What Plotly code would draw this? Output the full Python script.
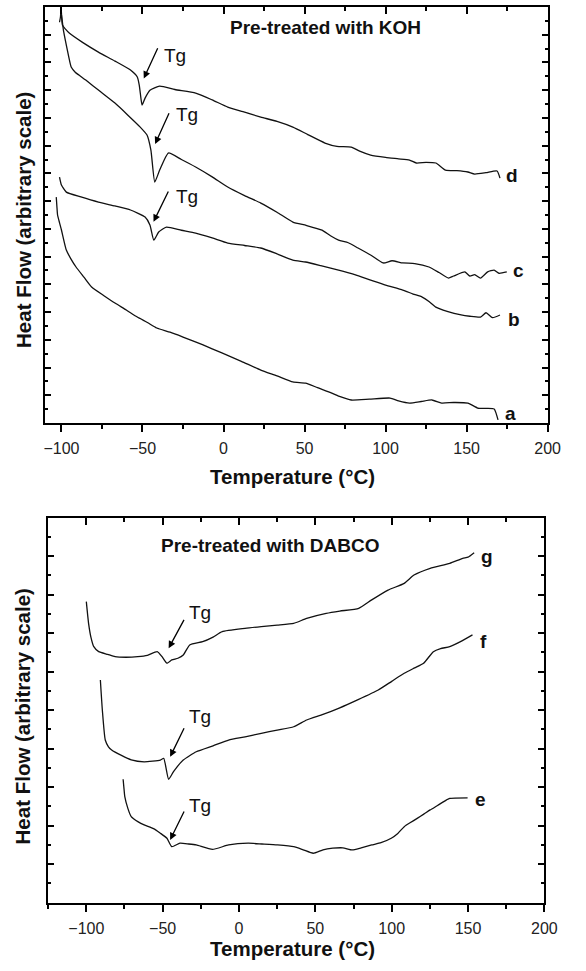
import plotly.graph_objects as go

# ---------------- Top panel (Pre-treated with KOH) ----------------
d_T = [-101.2, -100.6, -100.2, -99.4, -97.5, -95.2, -87.0, -77.2, -67.0, -57.4, -53.2, -52.0, -50.8, -50.2, -48.4, -45.4, -39.4,
       -30.0, -17.2, -7.0, 2.6, 12.0, 23.0, 33.0, 42.8, 52.0, 62.6, 70.0, 78.8, 84.0, 90.8, 100.0, 108.0, 114.8, 119.0, 125.0, 131.0, 137.0,
       144.0, 150.8, 155.0, 162.0, 168.8, 170.6]
d_Y = [28.9, 29.3, 29.9, 28.7, 28.4, 28.12, 27.45, 26.75, 26.1, 25.45, 24.95, 24.37, 23.29, 22.93, 23.43, 24.0, 24.3,
       24.05, 23.79, 23.3, 22.78, 22.45, 22.06, 21.75, 21.34, 20.8, 20.19, 19.95, 19.9, 19.6, 19.32, 19.15, 19.05, 18.96, 18.75, 18.8, 18.75, 18.24,
       18.2, 18.1, 17.95, 18.05, 18.17, 17.66]

c_T = [-100.0, -99.5, -98.8, -97.0, -95.5, -94.0, -91.5, -89.2, -85.0, -76.0, -67.0, -59.0, -51.4, -47.2, -44.8, -42.4, -39.4, -34.0, -26.0, -17.2,
       -7.0, 2.6, 13.0, 23.0, 33.0, 42.8, 51.0, 60.8, 66.0, 71.0, 77.0, 83.0, 91.0, 98.6, 104.0, 110.6, 118.0, 126.8, 133.0, 138.8, 142.0,
       149.0, 152.0, 155.0, 158.6, 163.0, 167.0, 170.0, 174.8]
c_Y = [29.42, 29.0, 28.33, 27.25, 26.4, 25.67, 25.3, 25.09, 24.73, 23.9, 23.07, 22.2, 21.34, 20.77, 19.68, 17.38, 18.24, 19.47, 19.0, 18.46,
       17.75, 17.02, 16.4, 15.86, 15.2, 14.49, 14.25, 13.91, 13.5, 13.19, 13.0, 12.62, 12.1, 11.54, 11.7, 11.54, 11.5, 11.25, 10.85, 10.45, 10.6,
       10.89, 10.6, 10.7, 10.45, 10.9, 11.03, 10.8, 10.89]

b_T = [-101.2, -100.0, -97.0, -88.0, -77.2, -67.0, -57.4, -48.4, -45.4, -43.0, -40.0, -35.2, -26.0, -17.2, -7.0, 2.6, 13.0, 23.0, 33.0, 42.8,
       50.6, 60.0, 71.0, 81.0, 90.8, 100.0, 110.6, 117.0, 122.6, 127.0, 131.0, 138.0, 146.6, 152.0, 158.6, 162.0, 166.0, 170.6]
b_Y = [17.74, 17.16, 16.65, 16.3, 15.93, 15.65, 15.36, 14.85, 14.28, 13.19, 13.77, 14.13, 13.9, 13.7, 13.35, 12.98, 12.8, 12.62, 12.2, 11.75,
       11.61, 11.35, 11.03, 10.7, 10.31, 9.95, 9.59, 9.3, 9.08, 8.75, 8.36, 8.05, 7.79, 7.7, 7.64, 7.95, 7.6, 7.79]

a_T = [-103.2, -102.8, -102.4, -101.2, -100.0, -98.5, -97.0, -94.0, -91.0, -86.0, -81.4, -74.0, -67.0, -60.0, -53.2, -47.0, -41.2, -33.0, -25.0,
       -13.0, -1.0, 11.0, 23.0, 33.0, 42.8, 50.6, 58.0, 66.8, 72.0, 78.8, 90.0, 102.8, 108.0, 114.8, 122.0, 128.6, 134.6, 142.0, 150.8,
       156.8, 162.0, 167.0, 169.4]
a_Y = [16.29, 15.6, 15.0, 14.45, 13.92, 13.15, 12.47, 11.8, 11.25, 10.5, 9.81, 9.2, 8.65, 8.15, 7.64, 7.25, 6.85, 6.55, 6.2,
       5.65, 5.05, 4.45, 3.82, 3.4, 2.96, 2.88, 2.55, 2.16, 1.9, 1.66, 1.72, 1.80, 1.6, 1.44, 1.55, 1.66, 1.44, 1.48, 1.44,
       1.08, 1.05, 1.01, 0.22]

# ---------------- Bottom panel (Pre-treated with DABCO) ----------------
g_T = [-100.0, -98.5, -97.0, -95.1, -91.9, -86.0, -81.2, -74.0, -66.3, -60.0, -53.6, -50.4, -47.2, -44.0, -40.0, -36.5, -32.3, -23.8, -17.0, -11.0,
       3.9, 14.6, 25.0, 35.8, 44.3, 57.1, 66.0, 78.4, 86.9, 97.6, 108.2, 114.6, 125.2, 138.0, 146.5, 150.0, 154.0]
g_Y = [15.64, 14.5, 13.8, 13.30, 13.04, 12.9, 12.78, 12.75, 12.78, 12.85, 13.04, 12.78, 12.44, 12.61, 12.7, 12.87, 13.39, 13.56, 13.8, 14.08,
       14.25, 14.34, 14.42, 14.51, 14.77, 15.03, 15.15, 15.29, 15.73, 16.24, 16.59, 17.02, 17.37, 17.63, 17.89, 17.95, 18.18]

f_T = [-90.8, -89.5, -87.6, -85.5, -83.4, -77.0, -70.6, -62.1, -51.5, -49.3, -46.1, -42.9, -36.5, -28.0, -17.0, -6.8, 4.0, 14.6, 25.0, 35.8,
       44.3, 55.0, 65.6, 78.0, 91.2, 100.0, 108.2, 115.0, 120.9, 127.3, 132.0, 138.0, 146.0, 152.9]
f_Y = [11.57, 10.0, 8.45, 8.1, 7.93, 7.65, 7.42, 7.32, 7.41, 7.50, 6.41, 6.81, 7.41, 7.84, 8.15, 8.45, 8.62, 8.80, 8.97, 9.14,
       9.49, 9.78, 10.11, 10.55, 11.05, 11.5, 11.92, 12.2, 12.44, 13.04, 13.2, 13.30, 13.6, 13.91]

e_T = [-75.9, -75.3, -74.8, -72.8, -70.6, -66.0, -62.1, -56.0, -51.5, -47.2, -44.0, -38.7, -33.0, -28.0, -17.4, -6.8, 6.0, 15.0, 25.2, 35.8,
       42.0, 48.6, 55.0, 61.4, 68.0, 74.2, 80.0, 86.9, 93.0, 99.7, 104.0, 108.2, 112.0, 116.7, 121.0, 125.2, 130.0, 135.9, 138.0, 149.7]
e_Y = [6.41, 5.9, 5.51, 4.9, 4.47, 4.2, 4.04, 3.85, 3.61, 3.35, 2.91, 3.09, 3.05, 3.0, 2.77, 3.0, 3.09, 3.05, 3.0, 2.91,
       2.75, 2.57, 2.75, 2.83, 2.85, 2.74, 2.85, 3.0, 3.12, 3.35, 3.6, 3.95, 4.15, 4.38, 4.6, 4.82, 5.05, 5.34, 5.42, 5.45]

curve_labels_top = ["a", "b", "c", "d"]
label_top_T = [177.2, 179.0, 182.0, 177.8]
label_top_Y = [0.72, 7.43, 11.03, 17.88]
curve_labels_bot = ["e", "f", "g"]
label_bot_T = [158.2, 160.4, 162.5]
label_bot_Y = [5.37, 13.56, 18.01]

# Tg arrows: tip (T, Y), tail (T, Y), text anchor (T, Y)
tg_top_tip = [(-49.2, 24.85), (-42.2, 20.12), (-43.2, 14.51)]
tg_top_tail = [(-40.2, 27.13), (-33.2, 22.44), (-33.6, 16.8)]
tg_top_text = [(-38.2, 26.53), (-30.4, 22.28), (-30.4, 16.37)]
tg_bot_tip = [(-46.1, 13.22), (-45.1, 7.58), (-45.1, 3.26)]
tg_bot_tail = [(-35.5, 14.77), (-35.5, 9.14), (-35.5, 4.82)]
tg_bot_text = [(-33.8, 15.1), (-33.8, 9.65), (-33.8, 5.05)]

FONT = "Liberation Sans, Arial, sans-serif"
W, H = 586, 971

fig = go.Figure()
line = dict(color="#111", width=1.3, shape="spline", smoothing=0.5)
for T, Y in [(d_T, d_Y), (c_T, c_Y), (b_T, b_Y), (a_T, a_Y)]:
    fig.add_trace(go.Scatter(x=T, y=Y, mode="lines", line=line, xaxis="x", yaxis="y", showlegend=False, hoverinfo="skip"))
for T, Y in [(g_T, g_Y), (f_T, f_Y), (e_T, e_Y)]:
    fig.add_trace(go.Scatter(x=T, y=Y, mode="lines", line=line, xaxis="x2", yaxis="y2", showlegend=False, hoverinfo="skip"))
# empty traces so the top-side tick axes get drawn
fig.add_trace(go.Scatter(x=[None], y=[None], xaxis="x3", yaxis="y", showlegend=False, hoverinfo="skip"))
fig.add_trace(go.Scatter(x=[None], y=[None], xaxis="x4", yaxis="y2", showlegend=False, hoverinfo="skip"))

def px_x(a, b):
    return [a / W, b / W]

def px_y(top, bottom):
    return [1 - bottom / H, 1 - top / H]

tickfont = dict(family=FONT, size=16, color="#222")

def xaxis_main(dom, rng, anchor):
    return dict(domain=dom, range=rng, anchor=anchor, showgrid=False, zeroline=False,
                showline=True, linecolor="black", linewidth=2, mirror=True,
                ticks="outside", ticklen=7, tickwidth=1.5, tickcolor="black",
                tick0=-100, dtick=50, tickfont=tickfont, ticklabelstandoff=3,
                minor=dict(ticks="outside", ticklen=4, tickwidth=1.5, tickcolor="black", dtick=25, tick0=-100, showgrid=False))

def xaxis_top(rng, over, anchor):
    return dict(range=rng, overlaying=over, anchor=anchor, side="top", showgrid=False, zeroline=False,
                showline=False, showticklabels=False,
                ticks="inside", ticklen=7, tickwidth=1.5, tickcolor="black", tick0=-100, dtick=50,
                minor=dict(ticks="inside", ticklen=4, tickwidth=1.5, tickcolor="black", dtick=25, tick0=-100, showgrid=False))

def yaxis_main(dom, rng, anchor):
    return dict(domain=dom, range=rng, anchor=anchor, showgrid=False, zeroline=False,
                showline=True, linecolor="black", linewidth=2, mirror="ticks",
                ticks="inside", ticklen=6, tickwidth=1.5, tickcolor="black", dtick=2, tick0=0,
                showticklabels=False,
                minor=dict(ticks="inside", ticklen=3, tickwidth=1.5, tickcolor="black", dtick=1, tick0=0, showgrid=False))

xr1 = [-110.2, 200]
xr2 = [-125, 200]
fig.update_layout(
    width=W, height=H, margin=dict(l=0, r=0, t=0, b=0),
    paper_bgcolor="white", plot_bgcolor="white",
    xaxis=xaxis_main(px_x(45, 560), xr1, "y"),
    yaxis=yaxis_main(px_y(7, 423), [0, 30], "x"),
    xaxis2=xaxis_main(px_x(48.3, 556.7), xr2, "y2"),
    yaxis2=yaxis_main(px_y(517.7, 902.7), [0, 20], "x2"),
    xaxis3=xaxis_top(xr1, "x", "y"),
    xaxis4=xaxis_top(xr2, "x2", "y2"),
)

ann = []
bold = dict(family=FONT, size=19, color="#111")
titlefont = dict(family=FONT, size=20.5, color="#111")
# axis titles
for yc in [476.5, 948.5]:
    ann.append(dict(text="<b>Temperature (°C)</b>", x=299 / W, y=1 - yc / H, xref="paper", yref="paper",
                    showarrow=False, font=titlefont, xanchor="center", yanchor="middle"))
for yc in [220, 716.5]:
    ann.append(dict(text="<b>Heat Flow (arbitrary scale)</b>", x=22.5 / W, y=1 - yc / H, xref="paper", yref="paper",
                    showarrow=False, textangle=-90, font=titlefont, xanchor="center", yanchor="middle"))
# panel titles
ann.append(dict(text="<b>Pre-treated with KOH</b>", x=62.9, y=28.55, xref="x", yref="y", showarrow=False,
                font=bold, xanchor="center", yanchor="middle"))
ann.append(dict(text="<b>Pre-treated with DABCO</b>", x=20.5, y=18.58, xref="x2", yref="y2", showarrow=False,
                font=bold, xanchor="center", yanchor="middle"))
# curve letters
for t, xv, yv in zip(curve_labels_top, label_top_T, label_top_Y):
    ann.append(dict(text="<b>%s</b>" % t, x=xv, y=yv, xref="x", yref="y", showarrow=False, font=bold,
                    xanchor="center", yanchor="middle"))
for t, xv, yv in zip(curve_labels_bot, label_bot_T, label_bot_Y):
    ann.append(dict(text="<b>%s</b>" % t, x=xv, y=yv, xref="x2", yref="y2", showarrow=False, font=bold,
                    xanchor="center", yanchor="middle"))
# Tg arrows and texts
tgfont = dict(family=FONT, size=19, color="#111")
for tips, tails, texts, xr, yr in [(tg_top_tip, tg_top_tail, tg_top_text, "x", "y"),
                                   (tg_bot_tip, tg_bot_tail, tg_bot_text, "x2", "y2")]:
    for (tx, ty), (ax, ay), (lx, ly) in zip(tips, tails, texts):
        ann.append(dict(text="", x=tx, y=ty, ax=ax, ay=ay, xref=xr, yref=yr, axref=xr, ayref=yr,
                        showarrow=True, arrowhead=2, arrowsize=1.1, arrowwidth=1.3, arrowcolor="black"))
        ann.append(dict(text="Tg", x=lx, y=ly, xref=xr, yref=yr, showarrow=False, font=tgfont,
                        xanchor="left", yanchor="middle"))
fig.update_layout(annotations=ann)

fig.write_html("out.html")
